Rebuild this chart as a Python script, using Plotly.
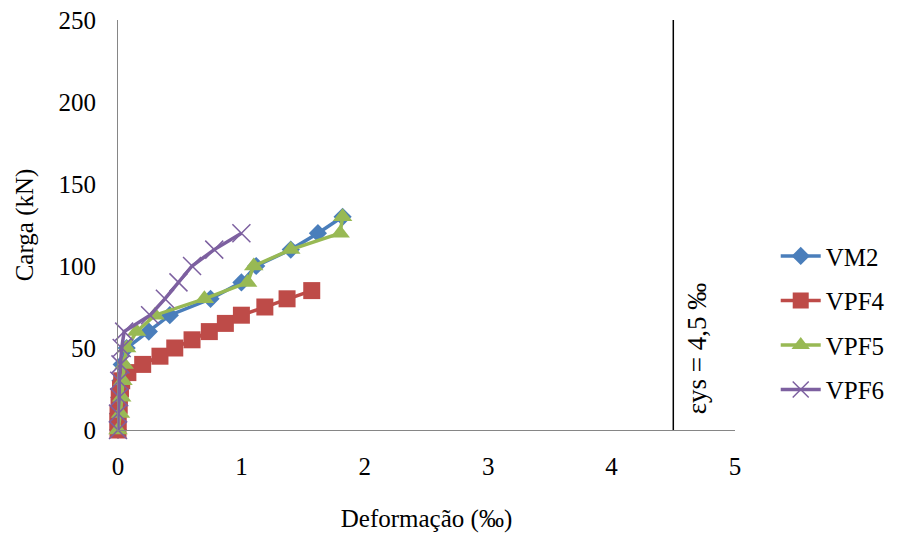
import plotly.graph_objects as go

# ---- data ----
vm2_def = [0, 0.0, 0.01, 0.02, 0.03, 0.07, 0.25, 0.42, 0.75, 1.0, 1.12, 1.4, 1.62, 1.82]
vm2_load = [0, 10, 20, 30, 40, 50, 60, 70, 80, 90, 100, 110, 120, 130]

vpf4_def = [0, 0.0, 0.0, 0.01, 0.01, 0.02, 0.03, 0.08, 0.2, 0.34, 0.46, 0.6, 0.74, 0.87, 1.0, 1.19, 1.37, 1.57]
vpf4_load = [0, 5, 10, 15, 20, 25, 30, 35, 40, 45, 50, 55, 60, 65, 70, 75, 80, 85]

vpf5_def = [0, 0.02, 0.03, 0.04, 0.05, 0.07, 0.15, 0.3, 0.7, 1.05, 1.1, 1.4, 1.8, 1.82]
vpf5_load = [0, 10, 20, 30, 40, 50, 60, 70, 80, 90, 100, 110, 120, 130]

vpf6_def = [0, 0.0, 0.01, 0.01, 0.02, 0.03, 0.05, 0.26, 0.38, 0.49, 0.6, 0.78, 1.0]
vpf6_load = [0, 10, 20, 30, 40, 50, 60, 70, 80, 90, 100, 110, 120]

yield_strain = 4.5
x_ticks = [0, 1, 2, 3, 4, 5]
y_ticks = [0, 50, 100, 150, 200, 250]

FONT = "Liberation Serif, Times New Roman, serif"

fig = go.Figure()

series = [
    ("VM2", vm2_def, vm2_load, "#4a7ebb", dict(symbol="diamond", size=14)),
    ("VPF4", vpf4_def, vpf4_load, "#be4b48", dict(symbol="square", size=17)),
    ("VPF5", vpf5_def, vpf5_load, "#98b954", dict(symbol="triangle-up", size=17)),
    ("VPF6", vpf6_def, vpf6_load, "#7d60a0", dict(symbol="x-thin-open", size=18, line=dict(width=1.5, color="#7d60a0"))),
]

for i, (name, xs, ys, col, mk) in enumerate(series):
    fig.add_trace(go.Scatter(
        x=xs, y=ys, name=name, mode="lines+markers",
        line=dict(color=col, width=3.5),
        marker=dict(color=col, **mk),
        cliponaxis=False, legendgroup=f"g{i}",
    ))

fig.add_shape(type="line", xref="x", yref="y", x0=yield_strain, x1=yield_strain,
              y0=0, y1=250, line=dict(color="black", width=1.5))

fig.add_annotation(x=yield_strain, y=50, xref="x", yref="y", xshift=24,
                   text="εys = 4,5 ‰", textangle=-90, showarrow=False,
                   font=dict(family=FONT, size=27, color="black"))

fig.update_layout(
    width=904, height=539,
    margin=dict(l=118, r=169, t=20, b=109, autoexpand=False),
    paper_bgcolor="white", plot_bgcolor="white",
    font=dict(family=FONT, size=25, color="black"),
    showlegend=True,
    legend=dict(x=1.066, y=0.48, xanchor="left", yanchor="top",
                font=dict(family=FONT, size=25, color="black"),
                traceorder="grouped", tracegroupgap=9,
                bgcolor="rgba(0,0,0,0)", itemwidth=40),
)

fig.update_xaxes(range=[0, 5], tickvals=x_ticks, showgrid=False, zeroline=False,
                 showline=True, linecolor="#868686", linewidth=1, automargin=False,
                 ticks="outside", ticklen=14, tickcolor="rgba(0,0,0,0)",
                 tickfont=dict(family=FONT, size=25, color="black"),
                 title=dict(text="Deformação (‰)", standoff=30,
                            font=dict(family=FONT, size=25, color="black")))

fig.update_yaxes(range=[0, 250], tickvals=y_ticks, showgrid=False, zeroline=False,
                 showline=True, linecolor="#868686", linewidth=1, automargin=False,
                 ticks="outside", ticklen=16, tickcolor="rgba(0,0,0,0)",
                 ticklabeloverflow="allow",
                 tickfont=dict(family=FONT, size=25, color="black"),
                 title=dict(text="Carga (kN)", standoff=17,
                            font=dict(family=FONT, size=25, color="black")))

fig.write_html("out.html", config={"displayModeBar": False},
               post_script="document.body.style.margin='0';")
